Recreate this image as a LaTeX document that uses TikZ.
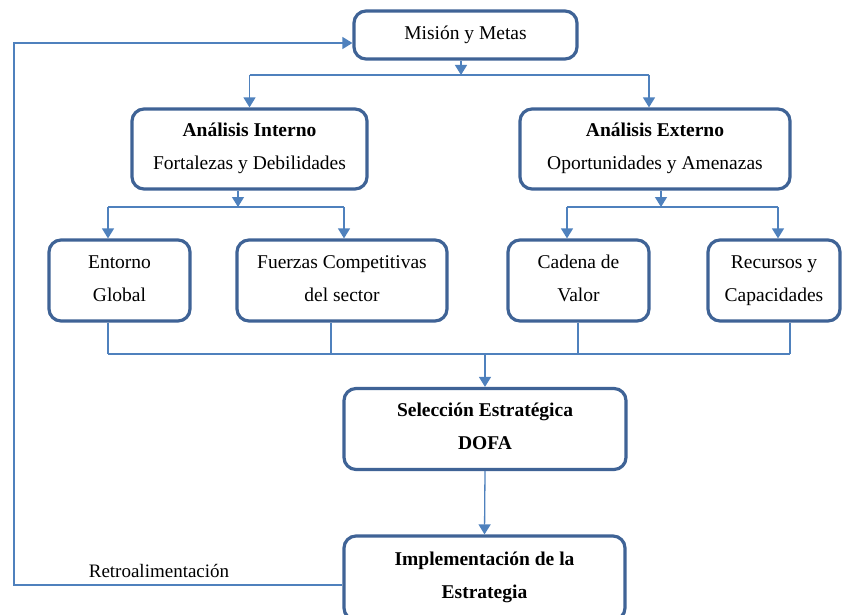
\documentclass[tikz,border=0pt]{standalone}
\usepackage{fontspec}
\setmainfont{Liberation Serif}
\usetikzlibrary{arrows.meta,calc}
\definecolor{boxblue}{HTML}{3F6396}
\definecolor{linkblue}{HTML}{4F81BD}
\newcommand\twolines[2]{\strut #1\\\rule[-13.6pt]{0pt}{36pt}#2}
\begin{document}
\begin{tikzpicture}[x=1pt,y=-1pt,
  box/.style={draw=boxblue,line width=3.2pt,rounded corners=12pt,fill=white,
    align=center,inner sep=0pt,font=\fontsize{19.5}{32}\selectfont},
  link/.style={draw=linkblue,line width=1.3pt},
  arr/.style={link,-{Triangle[width=12pt,length=10pt]}}]
\useasboundingbox (0,0) rectangle (843,615);
% boxes
\node[box,minimum width=223pt,minimum height=48pt] (mision) at (465.5,35) {Misión y Metas};
\node[box,minimum width=235pt,minimum height=80pt] (interno) at (249.5,149) {\twolines{\textbf{Análisis Interno}}{Fortalezas y Debilidades}};
\node[box,minimum width=270pt,minimum height=80pt] (externo) at (655,149) {\twolines{\textbf{Análisis Externo}}{Oportunidades y Amenazas}};
\node[box,minimum width=141pt,minimum height=81pt] (entorno) at (119.5,280.5) {\twolines{Entorno}{Global}};
\node[box,minimum width=210pt,minimum height=81pt] (fuerzas) at (342,280.5) {\twolines{Fuerzas Competitivas}{del sector}};
\node[box,minimum width=141pt,minimum height=81pt] (cadena) at (578.5,280.5) {\twolines{Cadena de}{Valor}};
\node[box,minimum width=132pt,minimum height=81pt] (recursos) at (774,280.5) {\twolines{Recursos y}{Capacidades}};
\node[box,minimum width=282pt,minimum height=81pt] (seleccion) at (485,429) {\twolines{\textbf{Selección Estratégica}}{\textbf{DOFA}}};
\node[box,minimum width=281pt,minimum height=84pt] (impl) at (484.5,578) {\twolines{\textbf{Implementación de la}}{\textbf{Estrategia}}};
\node[font=\fontsize{19}{22}\selectfont,inner sep=0pt] (retro) at (159,571) {Retroalimentación};
% junction coordinates
\coordinate (j1) at (461,75);
\coordinate (j1l) at (249.5,75);
\coordinate (j1r) at (649,75);
\coordinate (j2) at (238,207);
\coordinate (j2l) at (108,207);
\coordinate (j2r) at (344,207);
\coordinate (j3) at (661,207);
\coordinate (j3l) at (567,207);
\coordinate (j3r) at (778,207);
\coordinate (b1) at (108,354);
\coordinate (b2) at (331,354);
\coordinate (b3) at (578,354);
\coordinate (b4) at (790,354);
\coordinate (bm) at (485,354);
\coordinate (f1) at (14,585);
\coordinate (f2) at (14,43);
% connectors
\draw[arr] (j1 |- mision.south) -- (j1);
\draw[link] (j1l) -- (j1r);
\draw[arr] (j1l) -- (interno.north);
\draw[arr] (j1r) -- (j1r |- externo.north);
\draw[arr] (j2 |- interno.south) -- (j2);
\draw[link] (j2l) -- (j2r);
\draw[arr] (j2l) -- (j2l |- entorno.north);
\draw[arr] (j2r) -- (j2r |- fuerzas.north);
\draw[arr] (j3 |- externo.south) -- (j3);
\draw[link] (j3l) -- (j3r);
\draw[arr] (j3l) -- (j3l |- cadena.north);
\draw[arr] (j3r) -- (j3r |- recursos.north);
\draw[link] (b1 |- entorno.south) -- (b1);
\draw[link] (b2 |- fuerzas.south) -- (b2);
\draw[link] (b3 |- cadena.south) -- (b3);
\draw[link] (b4 |- recursos.south) -- (b4);
\draw[link] (b1) -- (b4);
\draw[arr] (bm) -- (bm |- seleccion.north);
\draw[arr] (seleccion.south) -- (impl.north);
\draw[arr] (impl.west |- f1) -- (f1) -- (f2) -- (mision.west |- f2);
\end{tikzpicture}
\end{document}
